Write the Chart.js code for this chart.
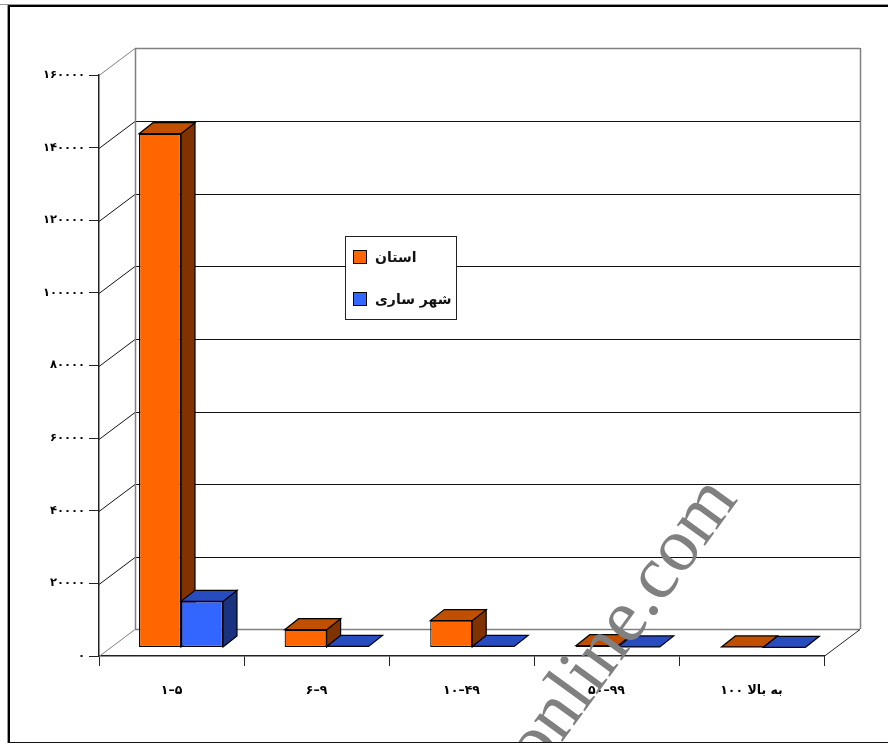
<!DOCTYPE html>
<html lang="fa">
<head>
<meta charset="utf-8">
<title>نمودار</title>
<script src="https://cdn.jsdelivr.net/npm/chart.js@4/dist/chart.umd.min.js"></script>
<style>
  html, body { margin: 0; padding: 0; background: #fff; }
  canvas { display: block; }
</style>
</head>
<body>
<canvas id="chart" width="888" height="743"></canvas>
<script>
// Workshop-size groups and the two series
const categories = ['۱–۵', '۶–۹', '۱۰–۴۹', '۵۰–۹۹', 'به بالا ۱۰۰'];
const provinceLabel = 'استان';
const provinceValues = [141500, 4900, 7400, 500, 150];
const cityLabel = 'شهر ساری';
const cityValues = [12700, 300, 300, 150, 50];
const yTicks = [0, 20000, 40000, 60000, 80000, 100000, 120000, 140000, 160000];
const yTickLabels = ['۰', '۲۰۰۰۰', '۴۰۰۰۰', '۶۰۰۰۰', '۸۰۰۰۰', '۱۰۰۰۰۰', '۱۲۰۰۰۰', '۱۴۰۰۰۰', '۱۶۰۰۰۰'];
const watermark = 'online.com';

const FONT = '"DejaVu Sans", sans-serif';
const colors = {
  province: { front: '#FF6600', top: '#C04F00', side: '#803300' },
  city: { front: '#3366FF', top: '#264CBF', side: '#1A3380' }
};

// Projection of the chart box: wall depth, bar placement within it, and a
// slight widening of the bar row caused by the perspective
const wall = { dx: 36, dy: -27 };
const barShift = { dx: 9.5, dy: -8.5, perCategory: 0.6 };
const barDepth = { dx: 14, dy: -11 };

function line(ctx, x1, y1, x2, y2, color, width) {
  ctx.strokeStyle = color;
  ctx.lineWidth = width;
  ctx.beginPath();
  ctx.moveTo(x1, y1);
  ctx.lineTo(x2, y2);
  ctx.stroke();
}

function poly(ctx, pts, fill) {
  ctx.fillStyle = fill;
  ctx.strokeStyle = '#000';
  ctx.lineWidth = 1.2;
  ctx.lineJoin = 'miter';
  ctx.beginPath();
  pts.forEach((p, i) => (i ? ctx.lineTo(p[0], p[1]) : ctx.moveTo(p[0], p[1])));
  ctx.closePath();
  ctx.fill();
  ctx.stroke();
}

// Walls, floor edges and gridlines behind the bars
const box3d = {
  id: 'box3d',
  beforeDatasetsDraw(chart) {
    const { ctx, chartArea: a, scales: { y } } = chart;
    const bx = a.left + wall.dx, rx = a.right + wall.dx;
    ctx.save();
    yTicks.forEach(v => {
      const py = Math.ceil(y.getPixelForValue(v)) + 0.5;
      const edge = v === 0 || v === yTicks[yTicks.length - 1];
      line(ctx, a.left, py, bx, py + wall.dy, edge ? '#808080' : '#111', 1);
      line(ctx, bx, py + wall.dy, rx, py + wall.dy, edge ? '#808080' : '#111', edge ? 1.6 : 1.2);
    });
    const top = y.getPixelForValue(yTicks[yTicks.length - 1]) + wall.dy;
    const floor = y.getPixelForValue(0) + wall.dy;
    line(ctx, bx + 0.5, top, bx + 0.5, floor, '#808080', 1.5);
    line(ctx, rx + 0.5, top, rx + 0.5, floor, '#808080', 1.5);
    line(ctx, a.right, a.bottom + 0.5, rx, floor + 0.5, '#222', 1);
    ctx.restore();
  },
  // Bars are painted left to right here so each one overlaps its left neighbour's side
  beforeDatasetDraw() { return false; },
  afterDatasetsDraw(chart) {
    const { ctx } = chart;
    [0, 1].forEach(di => {
      const meta = chart.getDatasetMeta(di);
      const c = di === 0 ? colors.province : colors.city;
      meta.data.forEach((bar, ci) => {
        ctx.save();
        ctx.translate(barShift.dx + ci * barShift.perCategory, barShift.dy);
        const p = bar.getProps(['x', 'y', 'base', 'width'], true);
        const l = p.x - p.width / 2, r = p.x + p.width / 2;
        const { dx, dy } = barDepth;
        if (p.base - p.y > 3) {
          poly(ctx, [[r, p.y], [r + dx, p.y + dy], [r + dx, p.base + dy], [r, p.base]], c.side);
        }
        poly(ctx, [[l, p.y], [l + dx, p.y + dy], [r + dx, p.y + dy], [r, p.y]], c.top);
        bar.draw(ctx);
        ctx.restore();
      });
    });
  },
  afterDraw(chart) {
    const { ctx } = chart;
    ctx.save();

    // Legend panel
    const panel = { x: 345.5, y: 236.5, w: 111, h: 83 };
    ctx.fillStyle = '#fff';
    ctx.fillRect(panel.x, panel.y, panel.w, panel.h);
    ctx.strokeStyle = '#222';
    ctx.lineWidth = 1;
    ctx.strokeRect(panel.x, panel.y, panel.w, panel.h);
    chart.data.datasets.forEach((ds, i) => {
      const sy = i === 0 ? 250.5 : 292.5;
      ctx.fillStyle = ds.backgroundColor;
      ctx.fillRect(353.5, sy, 13, 13);
      ctx.strokeStyle = '#000';
      ctx.strokeRect(353.5, sy, 13, 13);
      ctx.fillStyle = '#111';
      ctx.font = 'bold 14px ' + FONT;
      ctx.textAlign = 'left';
      ctx.textBaseline = 'middle';
      ctx.fillText(ds.label, 375, sy + 8);
    });

    // Outer frame, open on the right
    line(ctx, 0, 4.5, 888, 4.5, '#999', 1);
    line(ctx, 7.5, 5, 7.5, 743, '#999', 1);
    line(ctx, 8, 6, 888, 6, '#000', 2);
    line(ctx, 9, 5, 9, 743, '#000', 2);
    line(ctx, 8, 742.5, 888, 742.5, '#111', 1);

    // Diagonal site mark across the lower right
    ctx.beginPath();
    ctx.rect(0, 0, 888, 742);
    ctx.clip();
    ctx.translate(539, 774);
    ctx.rotate(-54 * Math.PI / 180);
    ctx.fillStyle = '#808080';
    ctx.font = '76px "Liberation Serif", serif';
    ctx.textAlign = 'left';
    ctx.textBaseline = 'alphabetic';
    ctx.fillText(watermark, 0, 0);
    ctx.restore();
  }
};

new Chart(document.getElementById('chart'), {
  type: 'bar',
  data: {
    labels: categories,
    datasets: [
      { label: provinceLabel, data: provinceValues, backgroundColor: colors.province.front },
      { label: cityLabel, data: cityValues, backgroundColor: colors.city.front }
    ]
  },
  options: {
    responsive: false,
    animation: false,
    events: [],
    devicePixelRatio: 1,
    layout: { padding: { top: 75, right: 64, left: 0, bottom: 0 } },
    elements: { bar: { borderColor: '#000', borderWidth: 1.2, borderSkipped: false } },
    datasets: { bar: { barPercentage: 1, categoryPercentage: 0.579, clip: false } },
    plugins: { legend: { display: false }, tooltip: { enabled: false }, title: { display: false } },
    scales: {
      x: {
        offset: true,
        afterFit: s => { s.height = 87; },
        grid: { drawOnChartArea: false, drawTicks: true, tickLength: 10, color: '#222', lineWidth: 1 },
        border: { display: true, color: '#222', width: 1.5 },
        ticks: { padding: 17, color: '#000', maxRotation: 0, font: { family: FONT, size: 12.5, weight: 'bold' } }
      },
      y: {
        min: 0,
        max: 160000,
        afterFit: s => { s.width = 99; },
        afterBuildTicks: s => { s.ticks = yTicks.map(value => ({ value })); },
        grid: { drawOnChartArea: false, drawTicks: true, tickLength: 10, color: '#222', lineWidth: 1 },
        border: { display: true, color: '#222', width: 1.5 },
        ticks: {
          padding: 4,
          color: '#000',
          font: { family: FONT, size: 11.5, weight: 'bold' },
          callback: value => yTickLabels[yTicks.indexOf(value)]
        }
      }
    }
  },
  plugins: [box3d]
});
</script>
</body>
</html>
